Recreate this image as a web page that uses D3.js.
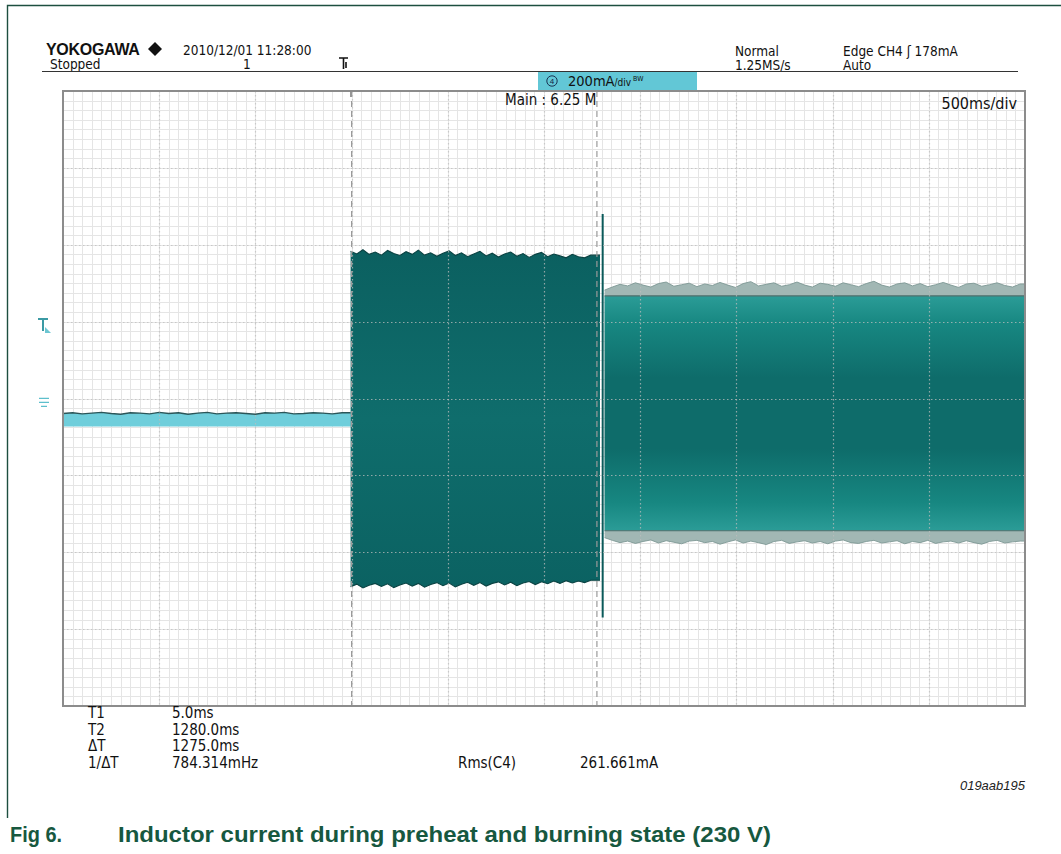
<!DOCTYPE html>
<html>
<head>
<meta charset="utf-8">
<script src="https://cdn.jsdelivr.net/npm/d3@7/dist/d3.min.js"></script>
<style>
  html, body { margin: 0; padding: 0; background: #fff; }
  svg { display: block; }
  .narrow { font-family: "Liberation Sans Narrow", "Arial Narrow", "DejaVu Sans Condensed", sans-serif; fill: #111; }
</style>
</head>
<body>
<svg id="scope" width="1061" height="854"></svg>
<script>
// Screen settings: 10 div x 500 ms, 8 div x 200 mA
const timeDomain = [-1495, 3505];      // ms
const currentDomain = [-790, 810];     // mA (0 = CH4 ground)
const msPerDiv = 500;
const mAPerDiv = 200;

// Idle trace before preheat: noisy top edge (mA), sampled every 50 ms from -1495 ms
const idleStart = -1495, idleStep = 50, idleEnd = 0;
const idleTop = [-29, -27, -30, -28, -26, -29, -31, -27, -28, -30, -26, -29, -27, -31, -28,
                 -26, -30, -28, -27, -29, -31, -27, -28, -26, -30, -29, -27, -28, -30, -27];
const idleBottom = -63;

// Preheat envelope (mA), sampled every 32 ms from 0 ms
const preStart = 0, preStep = 32, preEnd = 1296;
const preTop = [393, 386, 397, 385, 391, 383, 395, 387, 382, 392, 385, 396, 383, 389, 380,
                388, 394, 382, 389, 379, 386, 393, 381, 388, 378, 386, 391, 380, 387, 377,
                385, 390, 379, 386, 381, 376, 385, 379, 376, 383];
const preBottom = [-480, -473, -483, -476, -471, -479, -472, -482, -475, -470, -478, -471, -481, -474, -469,
                   -477, -470, -480, -473, -468, -476, -469, -478, -471, -467, -475, -468, -477, -470, -466,
                   -474, -467, -472, -465, -471, -464, -470, -465, -469, -463];

// Ignition spike (mA)
const spikeTime = 1310;
const spikeRange = [-560, 490];

// Burning envelope: noisy outer peaks (mA), sampled every 40 ms from 1320 ms
const burnStart = 1320, burnStep = 40, burnEnd = 3505;
const burnTop = [292, 300, 307, 303, 311, 305, 300, 309, 313, 302, 306, 310, 301, 308, 304,
                 312, 305, 299, 309, 314, 303, 307, 311, 302, 306, 313, 305, 300, 310, 307,
                 302, 311, 306, 301, 309, 315, 305, 300, 308, 311, 303, 309, 301, 306, 312,
                 305, 299, 308, 310, 302, 306, 311, 304, 300, 308];
const burnBottom = [-352, -359, -365, -361, -367, -362, -358, -366, -360, -364, -368, -361, -359, -365, -362,
                    -369, -363, -358, -366, -361, -365, -370, -362, -359, -367, -363, -360, -366, -362, -368,
                    -361, -358, -365, -367, -362, -359, -366, -363, -360, -368, -362, -365, -359, -367, -363,
                    -361, -366, -360, -365, -369, -362, -359, -366, -363, -361];
const burnInnerTop = 277, burnInnerBottom = -334;

// Trigger level and cursors
const triggerLevel = 178;              // mA
const cursorTimes = [5, 1280];         // ms
const cursorLabels = ["T1", "T2", "ΔT", "1/ΔT"];
const cursorValues = ["5.0ms", "1280.0ms", "1275.0ms", "784.314mHz"];
const measureLabel = "Rms(C4)", measureValue = "261.661mA";

const svg = d3.select("#scope");
const W = 1061;
const plot = { left: 63, top: 91, right: 1025, bottom: 706 };

const x = d3.scaleLinear().domain(timeDomain).range([plot.left, plot.right]);
const y = d3.scaleLinear().domain(currentDomain).range([plot.bottom, plot.top]);
const defs = svg.append("defs");

// page frame
svg.append("path")
  .attr("d", `M${W},5.5 H7.5 V818`)
  .attr("fill", "none").attr("stroke", "#1d4f40").attr("stroke-width", 1.4);

// ---------- grid (minor) ----------
const grid = svg.append("g");
const minorX = d3.range(timeDomain[0], timeDomain[1] + 1, msPerDiv / 10);
const minorY = d3.range(currentDomain[0], currentDomain[1] + 1, mAPerDiv / 8);
const majorX = d3.range(timeDomain[0] + msPerDiv, timeDomain[1], msPerDiv);
const majorY = d3.range(currentDomain[0] + mAPerDiv, currentDomain[1], mAPerDiv);

grid.selectAll(".mx").data(minorX).join("line")
  .attr("x1", d => Math.round(x(d)) + 0.5).attr("x2", d => Math.round(x(d)) + 0.5)
  .attr("y1", plot.top).attr("y2", plot.bottom)
  .attr("stroke", "#e5e5e5").attr("stroke-width", 1);
grid.selectAll(".my").data(minorY).join("line")
  .attr("y1", d => Math.round(y(d)) + 0.5).attr("y2", d => Math.round(y(d)) + 0.5)
  .attr("x1", plot.left).attr("x2", plot.right)
  .attr("stroke", "#e5e5e5").attr("stroke-width", 1);

// ---------- traces ----------
const traces = svg.append("g");

// idle band
const idleData = idleTop.map((v, i) => ({ t: idleStart + i * idleStep, v }));
idleData.push({ t: idleEnd, v: idleTop[idleTop.length - 1] });
traces.append("path").datum(idleData)
  .attr("d", d3.area().x(d => x(d.t)).y0(y(idleBottom)).y1(d => y(d.v)))
  .attr("fill", "#6fcedb");
traces.append("path").datum(idleData)
  .attr("d", d3.line().x(d => x(d.t)).y(d => y(d.v)))
  .attr("fill", "none").attr("stroke", "#2b5558").attr("stroke-width", 1.4);

// preheat envelope
const preData = preTop.map((v, i) => ({ t: preStart + i * preStep, top: v, bot: preBottom[i] }));
preData.push({ t: preEnd, top: preTop[preTop.length - 1], bot: preBottom[preBottom.length - 1] });
const gPre = defs.append("linearGradient").attr("id", "gPre").attr("x1", 0).attr("x2", 0).attr("y1", 0).attr("y2", 1);
gPre.append("stop").attr("offset", "0%").attr("stop-color", "#0b6060");
gPre.append("stop").attr("offset", "50%").attr("stop-color", "#0f6d6c");
gPre.append("stop").attr("offset", "100%").attr("stop-color", "#0b6262");
traces.append("path").datum(preData)
  .attr("d", d3.area().x(d => x(d.t)).y0(d => y(d.bot)).y1(d => y(d.top)))
  .attr("fill", "url(#gPre)");
["top", "bot"].forEach(k => {
  traces.append("path").datum(preData)
    .attr("d", d3.line().x(d => x(d.t)).y(d => y(d[k])))
    .attr("fill", "none").attr("stroke", "#0a4242").attr("stroke-width", 1.1);
});

// burning envelope: grey peak band, then teal body
const burnData = burnTop.map((v, i) => ({ t: burnStart + i * burnStep, top: v, bot: burnBottom[i] }));
burnData.push({ t: burnEnd, top: burnTop[burnTop.length - 1], bot: burnBottom[burnBottom.length - 1] });
traces.append("path").datum(burnData)
  .attr("d", d3.area().x(d => x(d.t)).y0(d => y(d.bot)).y1(d => y(d.top)))
  .attr("fill", "#a1b7b4");
["top", "bot"].forEach(k => {
  traces.append("path").datum(burnData)
    .attr("d", d3.line().x(d => x(d.t)).y(d => y(d[k])))
    .attr("fill", "none").attr("stroke", "#7d9794").attr("stroke-width", 0.9);
});
const gBurn = defs.append("linearGradient").attr("id", "gBurn").attr("x1", 0).attr("x2", 0).attr("y1", 0).attr("y2", 1);
gBurn.append("stop").attr("offset", "0%").attr("stop-color", "#2b9c97");
gBurn.append("stop").attr("offset", "12%").attr("stop-color", "#178781");
gBurn.append("stop").attr("offset", "35%").attr("stop-color", "#0e6c6a");
gBurn.append("stop").attr("offset", "65%").attr("stop-color", "#0e6c6a");
gBurn.append("stop").attr("offset", "88%").attr("stop-color", "#178781");
gBurn.append("stop").attr("offset", "100%").attr("stop-color", "#2b9c97");
traces.append("rect")
  .attr("x", x(burnStart)).attr("width", x(burnEnd) - x(burnStart))
  .attr("y", y(burnInnerTop)).attr("height", y(burnInnerBottom) - y(burnInnerTop))
  .attr("fill", "url(#gBurn)");
[burnInnerTop, burnInnerBottom].forEach(v => {
  traces.append("line").attr("x1", x(burnStart)).attr("x2", x(burnEnd))
    .attr("y1", y(v)).attr("y2", y(v)).attr("stroke", "#4f6f6d").attr("stroke-width", 1.1);
});

// ignition spike
traces.append("line").attr("x1", x(spikeTime)).attr("x2", x(spikeTime))
  .attr("y1", y(spikeRange[0])).attr("y2", y(spikeRange[1]))
  .attr("stroke", "#0b5a5a").attr("stroke-width", 2);

// ---------- major grid and cursors on top ----------
const major = svg.append("g");
major.selectAll(".Mx").data(majorX).join("line")
  .attr("x1", d => Math.round(x(d)) + 0.5).attr("x2", d => Math.round(x(d)) + 0.5)
  .attr("y1", plot.top).attr("y2", plot.bottom)
  .attr("stroke", "#bdbdbd").attr("stroke-opacity", 0.75).attr("stroke-width", 1.2).attr("stroke-dasharray", "1.5,2.5");
major.selectAll(".My").data(majorY).join("line")
  .attr("y1", d => Math.round(y(d)) + 0.5).attr("y2", d => Math.round(y(d)) + 0.5)
  .attr("x1", plot.left).attr("x2", plot.right)
  .attr("stroke", "#bdbdbd").attr("stroke-opacity", 0.75).attr("stroke-width", 1.2).attr("stroke-dasharray", "1.5,2.5");

major.selectAll(".cur").data(cursorTimes).join("line")
  .attr("x1", d => x(d)).attr("x2", d => x(d))
  .attr("y1", plot.top).attr("y2", plot.bottom)
  .attr("stroke", "#9a9a9a").attr("stroke-width", 1.2).attr("stroke-dasharray", "6,4");

// plot frame
svg.append("rect").attr("x", plot.left).attr("y", plot.top)
  .attr("width", plot.right - plot.left).attr("height", plot.bottom - plot.top)
  .attr("fill", "none").attr("stroke", "#8c8c8c").attr("stroke-width", 2);
// trigger position tick
svg.append("line").attr("x1", x(0)).attr("x2", x(0)).attr("y1", plot.top).attr("y2", plot.top + 6)
  .attr("stroke", "#888").attr("stroke-width", 1);

svg.append("text").attr("class", "narrow").attr("x", 505).attr("y", 105).attr("font-size", 15)
  .text("Main : 6.25 M");
svg.append("text").attr("class", "narrow").attr("x", 1017).attr("y", 109).attr("font-size", 16)
  .attr("text-anchor", "end").text("500ms/div");

// trigger level marker
const ty = y(triggerLevel);
svg.append("path").attr("d", `M38,${ty - 15} H48 M43,${ty - 15} V${ty - 3}`)
  .attr("stroke", "#3b9aa4").attr("stroke-width", 2).attr("fill", "none");
svg.append("path").attr("d", `M45,${ty - 7} L51,${ty - 1} L45,${ty - 1} Z`).attr("fill", "#6cc6d2");
// ground marker
const gy = y(0);
svg.append("path").attr("d", `M39,${gy - 4} H49 M39,${gy} H49 M41,${gy + 4} H47`)
  .attr("stroke", "#5dbfcc").attr("stroke-width", 1.4).attr("fill", "none");

// ---------- header ----------
const hdr = svg.append("g");
hdr.append("text").attr("x", 46).attr("y", 55)
  .attr("font-family", "Liberation Sans, Arial, sans-serif").attr("font-weight", "bold")
  .attr("font-size", 16).attr("letter-spacing", -0.3).attr("fill", "#111").text("YOKOGAWA");
hdr.append("path").attr("d", "M155,42 L162,49 L155,56 L148,49 Z").attr("fill", "#111");
hdr.append("text").attr("class", "narrow").attr("x", 183).attr("y", 54.5).attr("font-size", 13.5)
  .text("2010/12/01  11:28:00");
hdr.append("text").attr("class", "narrow").attr("x", 50).attr("y", 69).attr("font-size", 13.5)
  .text("Stopped");
hdr.append("text").attr("class", "narrow").attr("x", 243).attr("y", 69).attr("font-size", 13.5)
  .text("1");
// trigger mode glyph
hdr.append("path").attr("d", "M339,58 H348 M343.5,58 V69 M346,62 V68")
  .attr("fill", "none").attr("stroke", "#111").attr("stroke-width", 1.6);
hdr.append("text").attr("class", "narrow").attr("x", 735).attr("y", 55.5).attr("font-size", 13.5).text("Normal");
hdr.append("text").attr("class", "narrow").attr("x", 735).attr("y", 70).attr("font-size", 13.5).text("1.25MS/s");
hdr.append("text").attr("class", "narrow").attr("x", 843).attr("y", 55.5).attr("font-size", 13.5)
  .text("Edge CH4 \u0283 178mA");
hdr.append("text").attr("class", "narrow").attr("x", 843).attr("y", 70).attr("font-size", 13.5).text("Auto");
hdr.append("line").attr("x1", 42).attr("x2", 1018).attr("y1", 71.5).attr("y2", 71.5)
  .attr("stroke", "#333").attr("stroke-width", 1);

// channel scale tag
hdr.append("rect").attr("x", 538).attr("y", 72).attr("width", 159).attr("height", 18).attr("fill", "#62c7d6");
hdr.append("circle").attr("cx", 552).attr("cy", 81).attr("r", 5.2).attr("fill", "none").attr("stroke", "#124").attr("stroke-width", 0.9);
hdr.append("text").attr("x", 552).attr("y", 84).attr("text-anchor", "middle").attr("font-size", 8)
  .attr("font-family", "Liberation Sans, Arial, sans-serif").attr("fill", "#124").text("4");
const tag = hdr.append("text").attr("class", "narrow").attr("x", 568).attr("y", 86).attr("font-size", 14.5).attr("fill", "#123");
tag.append("tspan").text("200mA");
tag.append("tspan").attr("font-size", 10).text("/div");
tag.append("tspan").attr("font-size", 7).attr("dy", -5).text(" BW");

// ---------- readouts ----------
const ro = svg.append("g");
cursorLabels.forEach((lab, i) => {
  const by = 718 + i * 16.5;
  ro.append("text").attr("class", "narrow").attr("x", 88).attr("y", by).attr("font-size", 15).text(lab);
  ro.append("text").attr("class", "narrow").attr("x", 172).attr("y", by).attr("font-size", 15).text(cursorValues[i]);
});
ro.append("text").attr("class", "narrow").attr("x", 458).attr("y", 767.5).attr("font-size", 15).text(measureLabel);
ro.append("text").attr("class", "narrow").attr("x", 580).attr("y", 767.5).attr("font-size", 15).text(measureValue);

svg.append("text").attr("x", 1025).attr("y", 790).attr("text-anchor", "end")
  .attr("font-family", "Liberation Sans, Arial, sans-serif").attr("font-style", "italic")
  .attr("font-size", 13).attr("fill", "#222").text("019aab195");

// ---------- caption ----------
const cap = svg.append("g").attr("font-family", "Liberation Sans, Arial, sans-serif")
  .attr("font-weight", "bold").attr("font-size", 22).attr("fill", "#17583f");
cap.append("text").attr("x", 10).attr("y", 842).attr("textLength", 52).attr("lengthAdjust", "spacingAndGlyphs").text("Fig 6.");
cap.append("text").attr("x", 118).attr("y", 842).attr("textLength", 653).attr("lengthAdjust", "spacingAndGlyphs")
  .text("Inductor current during preheat and burning state (230 V)");
</script>
</body>
</html>
